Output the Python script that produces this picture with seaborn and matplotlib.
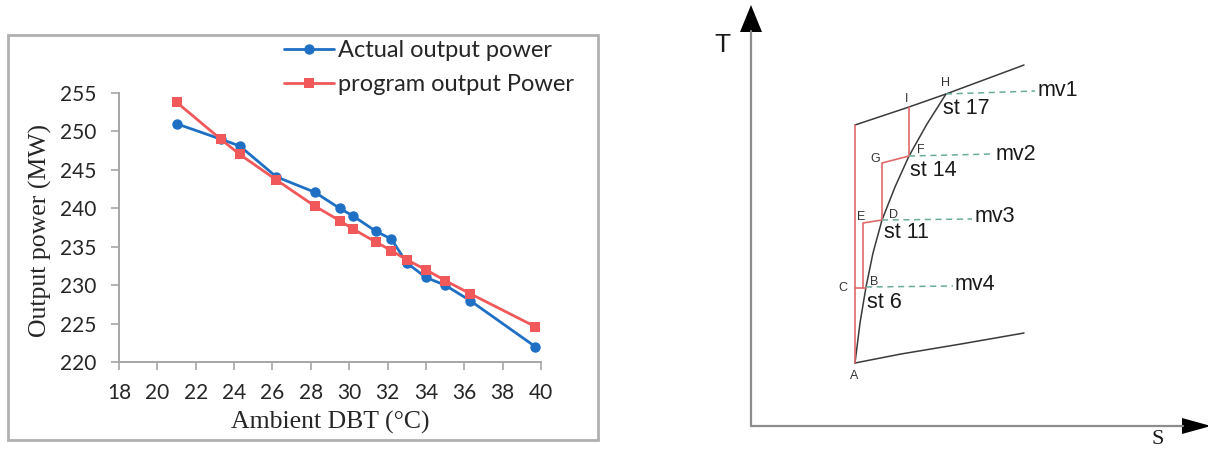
import matplotlib
matplotlib.use('Agg')
import matplotlib.pyplot as plt
import numpy as np
import pandas as pd
import seaborn as sns
from matplotlib.patches import Rectangle

# ---- left chart data ----
dbt = [21.0, 23.3, 24.3, 26.2, 28.2, 29.5, 30.2, 31.4, 32.2, 33.0, 34.0, 35.0, 36.3, 39.7]
actual_power = [251.0, 249.0, 248.1, 244.1, 242.1, 240.0, 239.0, 237.0, 236.0, 232.9, 231.0, 230.0, 228.0, 222.0]
program_power = [253.8, 249.0, 247.0, 243.7, 240.3, 238.4, 237.3, 235.6, 234.5, 233.3, 232.0, 230.6, 228.9, 224.6]
series_names = ['Actual output power', 'program output Power']
x_ticks = list(range(18, 41, 2))
y_ticks = list(range(220, 256, 5))

# ---- right schematic (T-s diagram), S/T in diagram units ----
curve_s = [104, 109, 115, 122, 131, 144, 158, 176, 195]
curve_t = [63, 103, 139, 173, 206, 239, 270, 302, 332]
upper_s = [104, 158, 195, 273]
upper_t = [301, 319, 332, 361]
lower_s = [104, 150, 210, 273]
lower_t = [63, 72, 82, 93]
# red reheat path, split into segments
red_s = [104, 104, 104, 115, 112, 112, 131, 131, 158, 158]
red_t = [63, 301, 138, 138, 138, 203, 206, 263, 270, 319]
red_seg = [0, 0, 1, 1, 2, 2, 2, 2, 2, 2]
dash_start_s = [115, 131, 158, 195]
dash_start_t = [139, 206, 270, 332]
dash_end_s = [202, 221, 241, 284]
dash_end_t = [140, 207, 272, 335]
mv_labels = ['mv4', 'mv3', 'mv2', 'mv1']
mv_pos = [(204, 142), (224, 209), (245, 272), (287, 335)]
st_labels = ['st 6', 'st 11', 'st 14', 'st 17']
st_pos = [(116, 123), (133, 193), (159, 256), (192, 318)]
pt_labels = ['A', 'B', 'C', 'D', 'E', 'F', 'G', 'H', 'I']
pt_pos = [(103, 50), (123, 144), (92, 138), (142, 211), (110, 209),
          (170, 276), (124, 267), (194, 343), (156, 327)]

blue = '#1f6fc4'
red = '#f0585a'

sns.set_theme(style='white')
plt.rcParams['font.family'] = ['Lato', 'DejaVu Sans']

fig = plt.figure(figsize=(12.08, 4.5), dpi=100)

# frame round left chart
fig.patches.append(Rectangle((8 / 1208, 1 - 440 / 450), 590 / 1208, 405 / 450,
                             transform=fig.transFigure, fill=False,
                             edgecolor='#b0b0b0', linewidth=2.0, zorder=0))

ax = fig.add_axes([119 / 1208, 1 - 362 / 450, 422 / 1208, 269 / 450])
df = pd.DataFrame({
    'dbt': dbt + dbt,
    'power': actual_power + program_power,
    'series': [series_names[0]] * len(dbt) + [series_names[1]] * len(dbt),
})
sns.lineplot(data=df, x='dbt', y='power', hue='series', style='series',
             markers=['o', 's'], dashes=False, palette=[blue, red],
             linewidth=2.0, markersize=7.5, markeredgewidth=0, ax=ax)

ax.set_xlim(18, 40)
ax.set_ylim(220, 255)
ax.set_xticks(x_ticks)
ax.set_yticks(y_ticks)
for sp in ['top', 'right']:
    ax.spines[sp].set_visible(False)
for sp in ['left', 'bottom']:
    ax.spines[sp].set_color('#a6a6a6')
    ax.spines[sp].set_linewidth(1.4)
ax.tick_params(axis='both', which='major', length=6, width=1.2, color='#a6a6a6',
               labelsize=15, labelcolor='#262626', direction='out',
               left=True, bottom=True)
ax.tick_params(axis='y', pad=10)
ax.tick_params(axis='x', pad=9)
ax.set_xlabel('Ambient DBT (°C)', fontfamily='Liberation Serif', fontsize=18.5,
              color='#262626', va='center')
ax.set_ylabel('Output power (MW)', fontfamily='Liberation Serif', fontsize=18.5,
              color='#262626', va='center', ha='center')
ax.xaxis.set_label_coords(0.5, -0.223)
ax.yaxis.set_label_coords(-0.187, 0.49)
ax.legend(loc='upper left', bbox_to_anchor=(284 / 1208, 1 - 40 / 450),
          bbox_transform=fig.transFigure, frameon=False, fontsize=17,
          handlelength=2.1, borderaxespad=0, borderpad=0, labelspacing=0.55,
          handletextpad=0.2, title=None)
ax.grid(False)

# ---- right panel ----
ax2 = fig.add_axes([720 / 1208, 0, 488 / 1208, 1])
ax2.set_xlim(-31, 457)
ax2.set_ylim(-24, 426)
ax2.axis('off')

axis_grey = '#8c8c8c'
ax2.plot([0, 0], [0, 395], color=axis_grey, linewidth=1.6)
ax2.plot([0, 432], [0, 0], color=axis_grey, linewidth=1.6)
ax2.fill([-11, 11, 0], [394, 394, 421], color='black', linewidth=0)
ax2.fill([431, 431, 460], [-8, 8, 0], color='black', linewidth=0, clip_on=False)

line_dark = '#3a3a3a'
sns.lineplot(x=curve_s, y=curve_t, sort=False, color=line_dark, linewidth=1.1, ax=ax2)
sns.lineplot(x=upper_s, y=upper_t, sort=False, color=line_dark, linewidth=1.1, ax=ax2)
sns.lineplot(x=lower_s, y=lower_t, sort=False, color=line_dark, linewidth=1.1, ax=ax2)

red_df = pd.DataFrame({'s': red_s, 't': red_t, 'seg': red_seg})
for seg, grp in red_df.groupby('seg'):
    ax2.plot(grp['s'], grp['t'], color='#e06a6a', linewidth=1.2)
for s0, t0, s1, t1 in zip(dash_start_s, dash_start_t, dash_end_s, dash_end_t):
    ax2.plot([s0, s1], [t0, t1], color='#6aab9c', linewidth=1.1, linestyle=(0, (4, 3)))

for lab, (s, t) in zip(mv_labels, mv_pos):
    ax2.text(s, t, lab, fontsize=15.5, fontfamily='Liberation Sans', ha='left', va='center',
             color='#1a1a1a')
for lab, (s, t) in zip(st_labels, st_pos):
    ax2.text(s, t, lab, fontsize=15.5, fontfamily='Liberation Sans', ha='left', va='center',
             color='#1a1a1a')
for lab, (s, t) in zip(pt_labels, pt_pos):
    ax2.text(s, t, lab, fontsize=9, fontfamily='Liberation Sans', ha='center', va='center',
             color='#333333')

ax2.text(-29, 381, 'T', fontsize=19, fontfamily='Liberation Sans', ha='center', va='center',
         color='#1a1a1a')
ax2.text(407, -23, 'S', fontsize=16, fontfamily='Liberation Serif', ha='center', va='bottom',
         color='#1a1a1a')

fig.savefig('out.png', dpi=100)
